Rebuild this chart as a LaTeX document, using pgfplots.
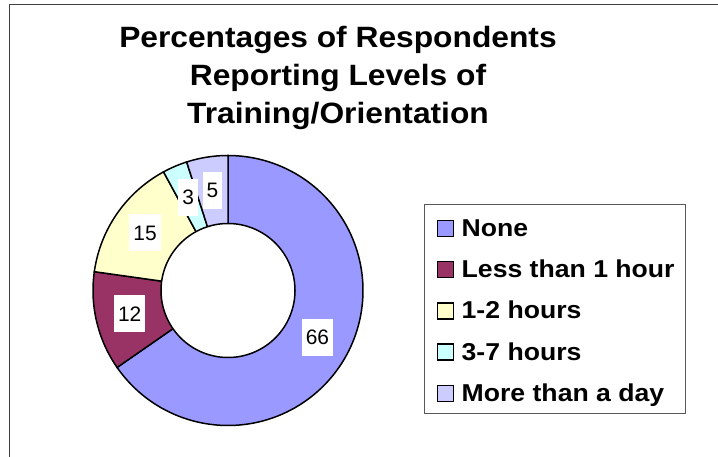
\documentclass[border=0pt]{standalone}
\usepackage{fontspec}
\setmainfont{Liberation Sans}
\newfontfamily\titlefont[FakeStretch=1.08]{Liberation Sans}
\newfontfamily\legfont[FakeStretch=1.09]{Liberation Sans}
\usepackage{pgfplots}
\pgfplotsset{compat=1.18}
\definecolor{cNone}{HTML}{9999FF}
\definecolor{cLess}{HTML}{993366}
\definecolor{cOne}{HTML}{FFFFCC}
\definecolor{cThree}{HTML}{CCFFFF}
\definecolor{cMore}{HTML}{CCCCFF}
\definecolor{frame}{HTML}{404040}
\tikzset{lbl/.style={fill=white, inner xsep=4bp, inner ysep=0pt, minimum height=37bp,
    font=\fontsize{21}{24}\selectfont}}
\begin{document}
\begin{tikzpicture}[x=1bp,y=1bp]
\useasboundingbox (0,0) rectangle (718,-457);
\draw[line width=1.6bp, color=frame] (9.5,-470) -- (9.5,-4.7) -- (730,-4.7);
% title
\begin{scope}[every node/.style={anchor=base, inner sep=0pt, font=\titlefont\bfseries\fontsize{29.5}{34}\selectfont}]
\node at (338,-47.3) {Percentages of Respondents};
\node at (338,-85.2) {Reporting Levels of};
\node at (338,-123.2) {Training/Orientation};
\end{scope}
% data
\def\vA{66}\def\vB{12}\def\vC{15}\def\vD{3}\def\vE{5}
\pgfmathsetmacro\T{\vA+\vB+\vC+\vD+\vE}
\pgfmathsetmacro\aO{90}
\pgfmathsetmacro\aA{90-(\vA)/\T*360}
\pgfmathsetmacro\aB{90-(\vA+\vB)/\T*360}
\pgfmathsetmacro\aC{90-(\vA+\vB+\vC)/\T*360}
\pgfmathsetmacro\aD{90-(\vA+\vB+\vC+\vD)/\T*360}
\pgfmathsetmacro\aE{90-(\vA+\vB+\vC+\vD+\vE)/\T*360}
\def\rmid{101}
\pgfmathsetmacro\xA{\rmid*cos((\aO+\aA)/2)}\pgfmathsetmacro\yA{\rmid*sin((\aO+\aA)/2)}
\pgfmathsetmacro\xB{\rmid*cos((\aA+\aB)/2)}\pgfmathsetmacro\yB{\rmid*sin((\aA+\aB)/2)}
\pgfmathsetmacro\xC{\rmid*cos((\aB+\aC)/2)}\pgfmathsetmacro\yC{\rmid*sin((\aB+\aC)/2)}
\pgfmathsetmacro\xD{\rmid*cos((\aC+\aD)/2)}\pgfmathsetmacro\yD{\rmid*sin((\aC+\aD)/2)}
\pgfmathsetmacro\xE{\rmid*cos((\aD+\aE)/2)}\pgfmathsetmacro\yE{\rmid*sin((\aD+\aE)/2)}
\begin{axis}[at={(228,-290.5)}, anchor=origin, x=1bp, y=1bp, hide axis,
  xmin=-136, xmax=136, ymin=-136, ymax=136, clip=false,
  every axis plot/.append style={draw=black, line width=1.5bp, samples=120, variable=\t}]
\addplot[fill=cNone, domain=\aA:\aO] ({135*cos(\t)},{135*sin(\t)}) -- (axis cs:0,0) -- cycle;
\addplot[fill=cLess, domain=\aB:\aA] ({135*cos(\t)},{135*sin(\t)}) -- (axis cs:0,0) -- cycle;
\addplot[fill=cOne, domain=\aC:\aB] ({135*cos(\t)},{135*sin(\t)}) -- (axis cs:0,0) -- cycle;
\addplot[fill=cThree, domain=\aD:\aC] ({135*cos(\t)},{135*sin(\t)}) -- (axis cs:0,0) -- cycle;
\addplot[fill=cMore, domain=\aE:\aD] ({135*cos(\t)},{135*sin(\t)}) -- (axis cs:0,0) -- cycle;
\addplot[fill=white, domain=0:360, samples=180] ({67*cos(\t)},{67*sin(\t)}) -- cycle;
\node[lbl] at (axis cs:\xA,\yA) {66};
\node[lbl] at (axis cs:\xB,\yB) {12};
\node[lbl] at (axis cs:\xC,\yC) {15};
\node[lbl] at (axis cs:\xD,\yD) {3};
\node[lbl] at (axis cs:\xE,\yE) {5};
\end{axis}
% legend
\draw[draw=black!65, line width=1bp, fill=white] (424,-205) rectangle (685,-413);
\foreach \c/\s [count=\i from 0] in {cNone/None, cLess/Less than 1 hour, cOne/1-2 hours, cThree/3-7 hours, cMore/More than a day}{
  \draw[fill=\c, draw=black, line width=1.3bp] (437.5,{-236.5-41.2*\i}) rectangle ++(16,16);
  \node[anchor=base west, inner sep=0pt, font=\legfont\bfseries\fontsize{24.5}{28}\selectfont] at (461.5,{-236.5-41.2*\i}) {\s};
}
\end{tikzpicture}
\end{document}
